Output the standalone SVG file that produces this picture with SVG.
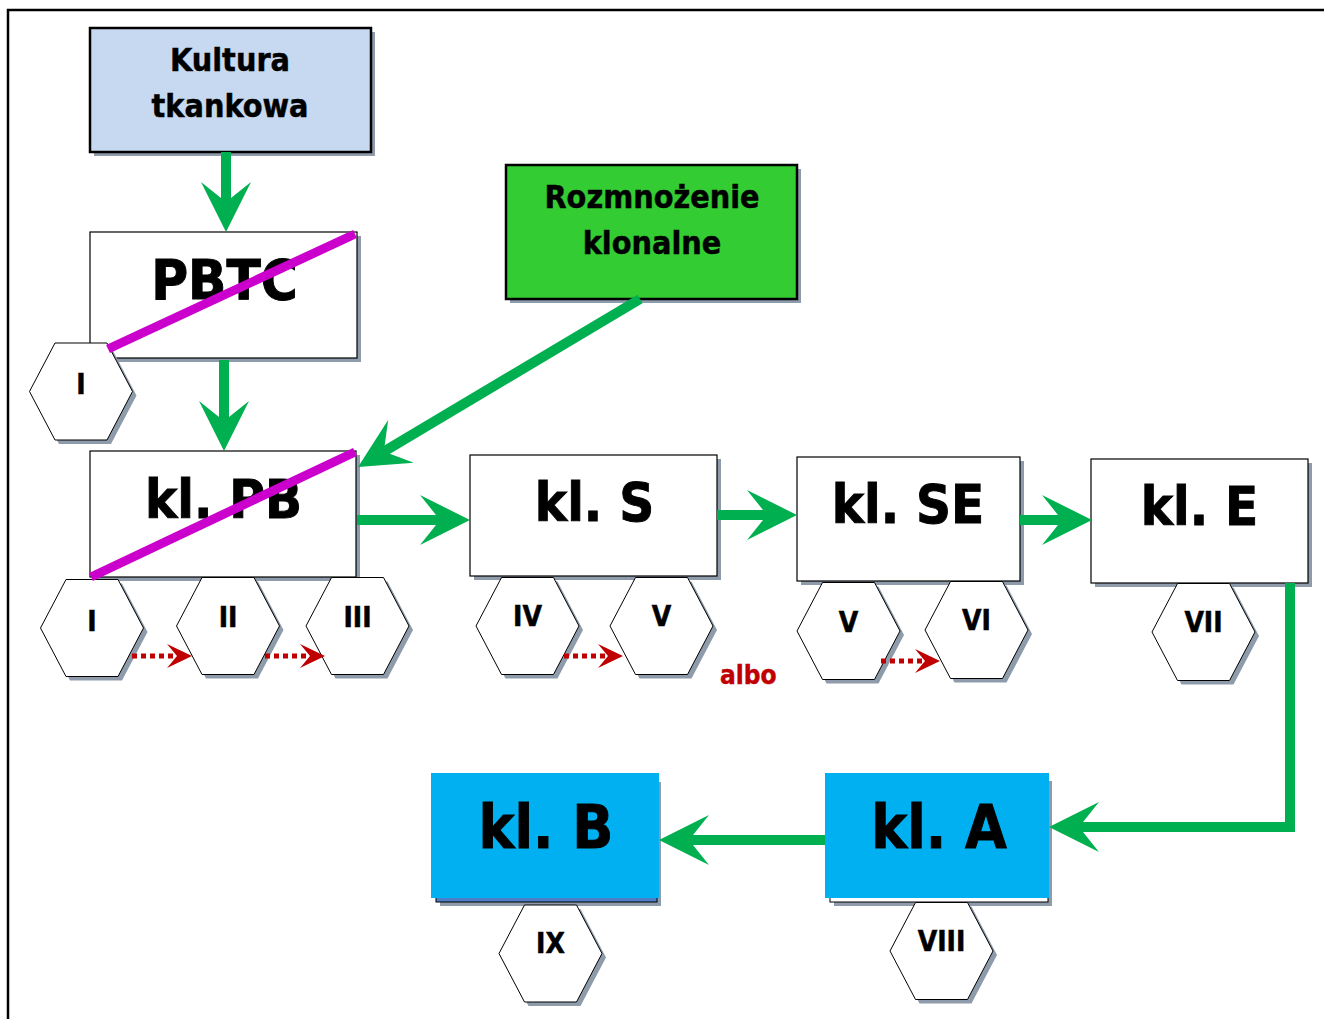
<svg xmlns="http://www.w3.org/2000/svg" xmlns:xlink="http://www.w3.org/1999/xlink" width="1324" height="1019" viewBox="0 0 1324 1019">
<style>
.sh{fill:#8e9bab;}
.box{fill:#fff;stroke:#000;stroke-width:1.2;}
.title{font-family:"DejaVu Sans Condensed","DejaVu Sans",sans-serif;font-stretch:condensed;font-weight:bold;text-anchor:middle;fill:#000;stroke:#000;stroke-width:0.9;}
.small{stroke-width:0.45;}
.hexl{font-family:"Liberation Sans Narrow","DejaVu Sans Condensed",sans-serif;font-stretch:condensed;font-weight:bold;font-size:28px;text-anchor:middle;fill:#000;stroke:#000;stroke-width:0.5;}
.hex{fill:#fff;stroke:#000;stroke-width:1;}
.green{fill:none;stroke:#00b050;stroke-width:10;}
.red{fill:none;stroke:#c00000;stroke-width:5;stroke-dasharray:5 4;}
.cross{stroke:#cc00cc;stroke-width:9;}
</style>
<defs>
<marker id="ga" markerUnits="userSpaceOnUse" viewBox="-50 -25 50 50" markerWidth="50" markerHeight="50" refX="-30" refY="0" orient="auto">
<path d="M0,0 L-50,-25 L-30,0 L-50,25 Z" fill="#00b050"/>
</marker>
<marker id="ra" markerUnits="userSpaceOnUse" viewBox="-25 -12 25 24" markerWidth="25" markerHeight="24" refX="-15" refY="0" orient="auto">
<path d="M0,0 L-25,-12 L-15,0 L-25,12 Z" fill="#c00000"/>
</marker>
<polygon id="hexs" class="sh" points="-47.5,4 -22,-44.5 30,-44.5 55.5,4 30,52.5 -22,52.5"/>
<polygon id="hexp" class="hex" points="-51.5,0 -26,-48.5 26,-48.5 51.5,0 26,48.5 -26,48.5"/>
</defs>
<rect width="1324" height="1019" fill="#fff"/>
<path d="M8,1019 V10 H1324" fill="none" stroke="#000" stroke-width="2.5"/>

<g id="kultura">
<rect class="sh" x="94" y="32" width="281" height="124"/>
<rect x="90" y="28" width="281" height="124" fill="#c6d9f0" stroke="#000" stroke-width="2.5"/>
<text class="title small" font-size="32" x="230" y="71">Kultura</text>
<text class="title small" font-size="32" x="230" y="117">tkankowa</text>
</g>

<g id="rozmnozenie">
<rect class="sh" x="510" y="169" width="291" height="134"/>
<rect x="506" y="165" width="291" height="134" fill="#33cc33" stroke="#000" stroke-width="2.5"/>
<text class="title small" font-size="32" x="652" y="208">Rozmnożenie</text>
<text class="title small" font-size="32" x="652" y="254">klonalne</text>
</g>

<g id="pbtc">
<rect class="sh" x="94" y="236" width="267" height="126"/>
<rect class="box" x="90" y="232" width="267" height="126"/>
<text class="title" font-size="56" x="224.5" y="299">PBTC</text>
<g id="pbtc-hex-I"><use xlink:href="#hexs" x="81" y="391.5"/><use xlink:href="#hexp" x="81" y="391.5"/><text class="hexl" x="81" y="394">I</text></g>
<line class="cross" x1="108" y1="349" x2="355" y2="234"/>
</g>

<g id="klPB">
<rect class="sh" x="94" y="455" width="266" height="126"/>
<rect class="box" x="90" y="451" width="266" height="126"/>
<text class="title" font-size="54" x="223.5" y="518">kl. PB</text>
<g id="klPB-hex-I"><use xlink:href="#hexs" x="92" y="628"/><use xlink:href="#hexp" x="92" y="628"/><text class="hexl" x="92" y="631">I</text></g>
<g id="klPB-hex-II"><use xlink:href="#hexs" x="228" y="626"/><use xlink:href="#hexp" x="228" y="626"/><text class="hexl" x="228" y="627">II</text></g>
<g id="klPB-hex-III"><use xlink:href="#hexs" x="357.5" y="626"/><use xlink:href="#hexp" x="357.5" y="626"/><text class="hexl" x="357.5" y="627">III</text></g>
<line class="cross" x1="91" y1="577" x2="355" y2="452"/>
</g>

<g id="klS">
<rect class="sh" x="474" y="459" width="247" height="121"/>
<rect class="box" x="470" y="455" width="247" height="121"/>
<text class="title" font-size="54" x="594.5" y="521">kl. S</text>
<g id="klS-hex-IV"><use xlink:href="#hexs" x="527.5" y="626"/><use xlink:href="#hexp" x="527.5" y="626"/><text class="hexl" x="527.5" y="626">IV</text></g>
<g id="klS-hex-V"><use xlink:href="#hexs" x="661.5" y="626"/><use xlink:href="#hexp" x="661.5" y="626"/><text class="hexl" x="661.5" y="626">V</text></g>
</g>

<text id="albo" x="720" y="684" font-family="'DejaVu Sans Condensed','DejaVu Sans',sans-serif" font-stretch="condensed" font-weight="bold" font-size="26" fill="#c00000" stroke="#c00000" stroke-width="0.4">albo</text>

<g id="klSE">
<rect class="sh" x="801" y="461" width="223" height="124"/>
<rect class="box" x="797" y="457" width="223" height="124"/>
<text class="title" font-size="54" x="908" y="523">kl. SE</text>
<g id="klSE-hex-V"><use xlink:href="#hexs" x="848.5" y="631"/><use xlink:href="#hexp" x="848.5" y="631"/><text class="hexl" x="848.5" y="632">V</text></g>
<g id="klSE-hex-VI"><use xlink:href="#hexs" x="976.5" y="630"/><use xlink:href="#hexp" x="976.5" y="630"/><text class="hexl" x="976.5" y="630">VI</text></g>
</g>

<g id="klE">
<rect class="sh" x="1095" y="463" width="217" height="124"/>
<rect class="box" x="1091" y="459" width="217" height="124"/>
<text class="title" font-size="54" x="1199.5" y="525">kl. E</text>
<g id="klE-hex-VII"><use xlink:href="#hexs" x="1203.5" y="632"/><use xlink:href="#hexp" x="1203.5" y="632"/><text class="hexl" x="1203.5" y="632">VII</text></g>
</g>

<g id="klA">
<rect class="sh" x="834" y="781" width="218" height="125"/>
<rect x="830" y="777" width="218" height="125" fill="#fff" stroke="#000" stroke-width="1"/>
<rect x="825" y="773" width="224" height="125" fill="#00b0f0"/>
<text class="title" font-size="60" x="939" y="848">kl. A</text>
<g id="klA-hex-VIII"><use xlink:href="#hexs" x="941.5" y="951"/><use xlink:href="#hexp" x="941.5" y="951"/><text class="hexl" x="941.5" y="951">VIII</text></g>
</g>

<g id="klB">
<rect class="sh" x="440" y="782" width="221" height="124"/>
<rect x="436" y="778" width="221" height="124" fill="#4f7fc8" stroke="#000" stroke-width="1"/>
<rect x="431" y="773" width="228" height="125" fill="#00b0f0"/>
<text class="title" font-size="60" x="546" y="848">kl. B</text>
<g id="klB-hex-IX"><use xlink:href="#hexs" x="550.5" y="953.5"/><use xlink:href="#hexp" x="550.5" y="953.5"/><text class="hexl" x="550.5" y="953">IX</text></g>
</g>

<g id="connectors">
<path class="green" d="M226,152 V202" marker-end="url(#ga)"/>
<path class="green" d="M224,360 V421" marker-end="url(#ga)"/>
<path class="green" d="M640,299 L383.8,451.6" marker-end="url(#ga)"/>
<path class="green" d="M357,520 H440" marker-end="url(#ga)"/>
<path class="green" d="M717,515 H767" marker-end="url(#ga)"/>
<path class="green" d="M1020,520 H1062" marker-end="url(#ga)"/>
<path class="green" d="M1290,583 V827 H1079" marker-end="url(#ga)"/>
<path class="green" d="M825,840 H689" marker-end="url(#ga)"/>
<path class="red" d="M132,656 H177" marker-end="url(#ra)"/>
<path class="red" d="M265,656 H310" marker-end="url(#ra)"/>
<path class="red" d="M564,656 H608" marker-end="url(#ra)"/>
<path class="red" d="M881,661 H925" marker-end="url(#ra)"/>
</g>
</svg>
